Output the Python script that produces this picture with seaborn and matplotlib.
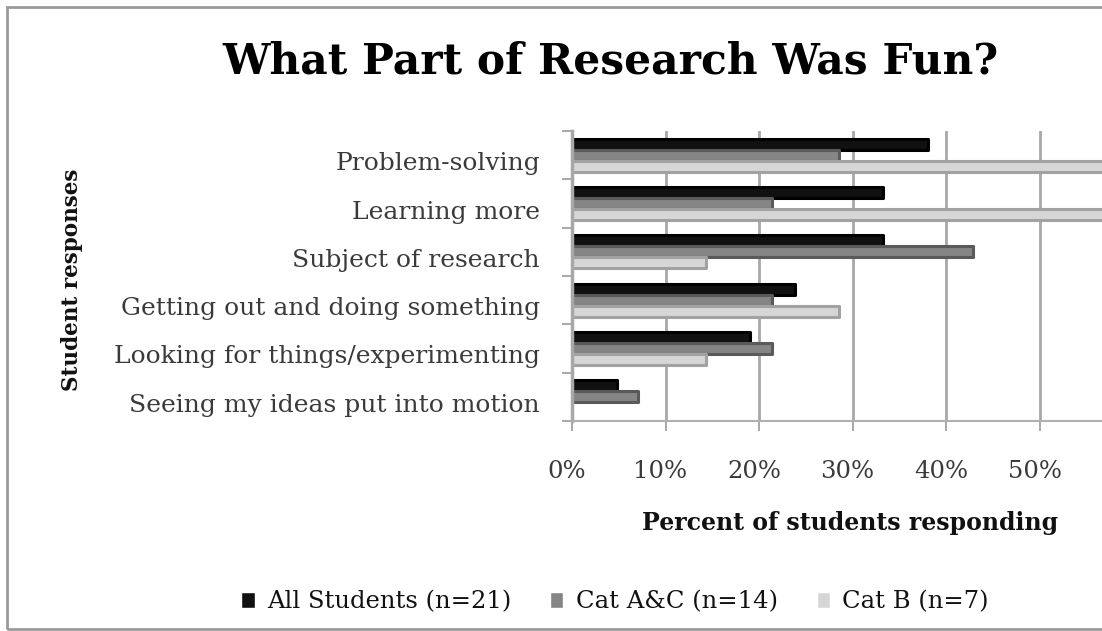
import matplotlib
matplotlib.use("Agg")
import matplotlib.pyplot as plt
import matplotlib.transforms as mtransforms
from matplotlib.patches import Rectangle
import seaborn as sns
import pandas as pd

# Survey answers: share of students naming each part of research as fun (%)
responses = [
    "Problem-solving",
    "Learning more",
    "Subject of research",
    "Getting out and doing something",
    "Looking for things/experimenting",
    "Seeing my ideas put into motion",
]
groups = ["All Students (n=21)", "Cat A&C (n=14)", "Cat B (n=7)"]
all_students = [38.1, 33.3, 33.3, 23.8, 19.0, 4.8]
cat_ac = [28.6, 21.4, 42.9, 21.4, 21.4, 7.1]
cat_b = [57.1, 57.1, 14.3, 28.6, 14.3, 0.0]
x_ticks = [0, 10, 20, 30, 40, 50, 60]
x_tick_labels = ["0%", "10%", "20%", "30%", "40%", "50%", "60%"]

fills = ["#111111", "#858585", "#d6d6d6"]
edges = ["#000000", "#5a5a5a", "#a2a2a2"]

df = pd.DataFrame({
    "response": responses * 3,
    "group": [groups[0]] * 6 + [groups[1]] * 6 + [groups[2]] * 6,
    "percent": all_students + cat_ac + cat_b,
})

sns.set_theme(style="white")
plt.rcParams["font.family"] = ["DejaVu Serif", "DejaVu Sans"]

W, H = 1102, 631
fig = plt.figure(figsize=(W / 100, H / 100), dpi=100)
fig.patch.set_facecolor("white")

# plot area in pixel terms: left 572, right 1133 (60%), top 131, bottom 421
ax = fig.add_axes([572 / W, 1 - 421 / H, (1133 - 572) / W, (421 - 131) / H])

sns.barplot(
    data=df, y="response", x="percent", hue="group",
    order=responses, hue_order=groups, palette=fills,
    width=0.68, orient="h", saturation=1, ax=ax, legend=True,
)

for cont, ec in zip(ax.containers, edges):
    for bar in cont:
        bar.set_edgecolor(ec)
        bar.set_linewidth(2.2)
        bar.set_joinstyle("round")

ax.set_xlim(0, 60)
ax.set_ylim(len(responses) - 0.5, -0.5)
ax.set_xticks(x_ticks)
ax.set_xticklabels(x_tick_labels)

ax.xaxis.grid(True, color="#a8a8a8", linewidth=2)
ax.yaxis.grid(False)
ax.set_axisbelow(True)

for side in ["top", "right"]:
    ax.spines[side].set_visible(False)
ax.spines["left"].set_color("#a8a8a8")
ax.spines["left"].set_linewidth(2.5)
ax.spines["bottom"].set_color("#b0b0b0")
ax.spines["bottom"].set_linewidth(1.5)

# category boundaries as short ticks on the left wall
ax.set_yticks([i - 0.5 for i in range(len(responses) + 1)], minor=True)
ax.tick_params(axis="y", which="minor", length=7, width=1.2, color="#9a9a9a", left=True)
ax.tick_params(axis="y", which="major", length=0, pad=23,
               labelsize=18, labelcolor="#3a3a3a")
ax.tick_params(axis="x", which="major", length=7, width=1.2, color="#9a9a9a",
               bottom=True, pad=21, labelsize=17.5, labelcolor="#3a3a3a")

# labels sit a little below and left of the bar planes
dy = mtransforms.ScaledTranslation(0, -6 / 100, fig.dpi_scale_trans)
for lab in ax.get_yticklabels():
    lab.set_transform(lab.get_transform() + dy)
dx = mtransforms.ScaledTranslation(-5 / 100, 0, fig.dpi_scale_trans)
for lab in ax.get_xticklabels():
    lab.set_transform(lab.get_transform() + dx)

ax.set_ylabel("Student responses", fontsize=15.5, fontweight="bold", color="#111111")
ax.yaxis.set_label_coords((72 - 572) / (1133 - 572), (421 - 280) / (421 - 131))
ax.yaxis.label.set_va("center")
ax.set_xlabel("Percent of students responding", fontsize=17, fontweight="bold",
              color="#111111")
ax.xaxis.set_label_coords((850 - 572) / (1133 - 572), (421 - 523) / (421 - 131))
ax.xaxis.label.set_va("center")

fig.text(610 / W, 1 - 62 / H, "What Part of Research Was Fun?",
         ha="center", va="center", fontsize=30.5, fontweight="bold", color="#000000")

handles, labels = ax.get_legend_handles_labels()
ax.legend_.remove()
fig.legend(handles, labels, loc="center", bbox_to_anchor=(615 / W, 1 - 602 / H),
           ncol=3, frameon=False, fontsize=17.5, handlelength=0.55, handleheight=0.6,
           handletextpad=0.5, columnspacing=1.6, labelcolor="#111111")

# chart frame
fig.patches.append(Rectangle((7 / W, 2 / H), 1.0, (629 - 7) / H,
                             transform=fig.transFigure, fill=False,
                             edgecolor="#9a9a9a", linewidth=2))

fig.savefig("out.png", dpi=100)
